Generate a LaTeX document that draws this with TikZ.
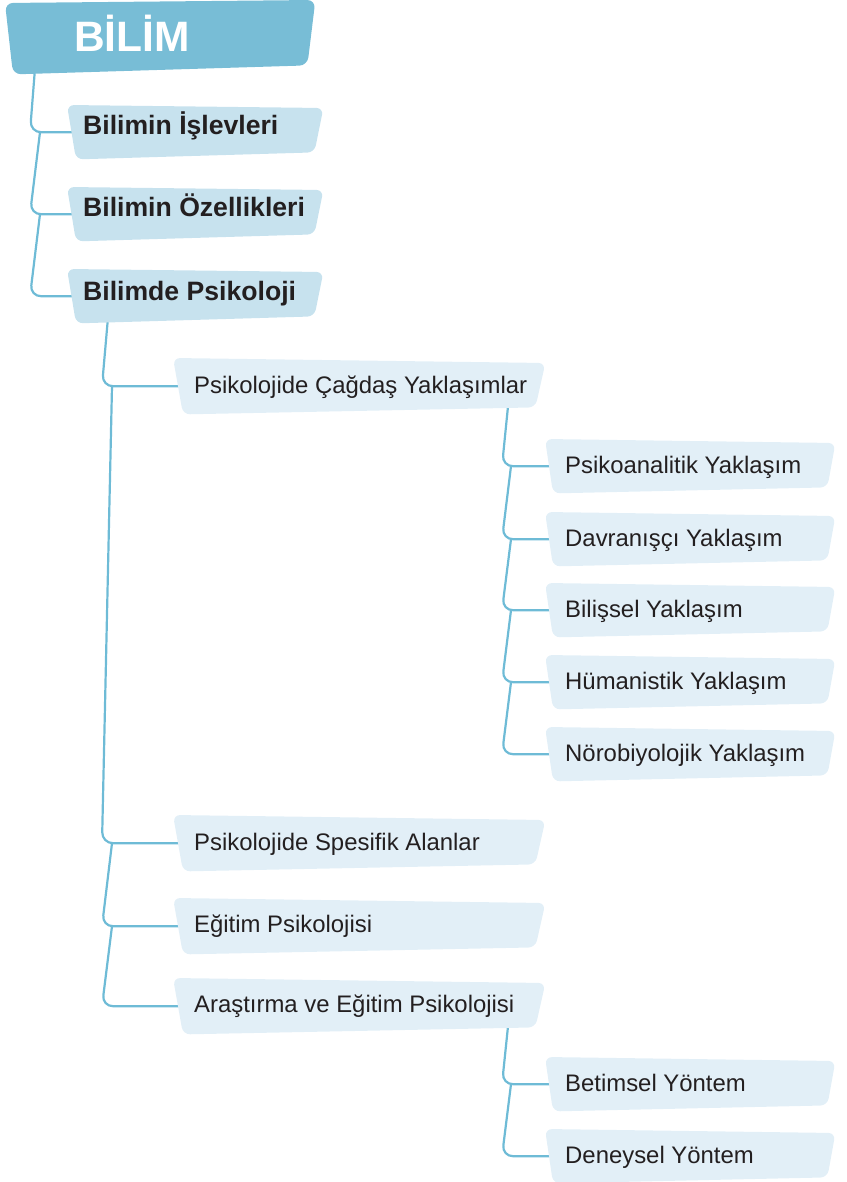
\documentclass[tikz,border=0pt]{standalone}
\usepackage{fontspec}
\setmainfont{Liberation Sans}
\usetikzlibrary{calc}
\definecolor{cTop}{HTML}{78BDD6}
\definecolor{cLa}{HTML}{C7E2EE}
\definecolor{cLb}{HTML}{E2EFF7}
\definecolor{cLine}{HTML}{6EBBD6}
\definecolor{cText}{HTML}{231F20}
\pgfdeclarelayer{lines}
\pgfdeclarelayer{bg}
\pgfsetlayers{lines,bg,main}
% #1 node, #2 colour, #3 top-right drop, #4 side inset, #5 bottom-right rise
\newcommand{\tzbox}[5]{%
  \fill[#2, rounded corners=7pt] (#1.north west) -- ($(#1.north east)+(0,#3)$)
    -- ($(#1.south east)+(-#4,-#5)$) -- ($(#1.south west)+(#4,0)$) -- cycle;}
\begin{document}
\begin{tikzpicture}[x=1pt,y=-1pt,
  boxA/.style={rectangle, inner sep=0pt, minimum width=256pt, minimum height=54pt, anchor=north west},
  boxB/.style={rectangle, inner sep=0pt, minimum width=372pt, minimum height=56pt, anchor=north west},
  boxC/.style={rectangle, inner sep=0pt, minimum width=290pt, minimum height=54pt, anchor=north west},
  txtTop/.style={anchor=base west, inner sep=0pt, text=white, font=\bfseries\fontsize{42.5}{48}\selectfont},
  txtA/.style={anchor=base west, inner sep=0pt, text=cText, font=\bfseries\fontsize{26.6}{30}\selectfont},
  txtB/.style={anchor=base west, inner sep=0pt, text=cText, font=\fontsize{23.9}{28}\selectfont},
  conn/.style={draw=cLine, line width=2.2pt, rounded corners=11pt, shorten >=-10pt}
]
\useasboundingbox (0,0) rectangle (846,1182);

% boxes
\node[rectangle, inner sep=0pt, minimum width=310pt, minimum height=74pt, anchor=north west] (b0) at (5,0) {};
\node[boxA] (b1) at (67,105) {};
\node[boxA] (b2) at (67,187) {};
\node[boxA] (b3) at (67,269) {};
\node[boxB] (b4) at (173,358) {};
\node[boxB] (b5) at (173,815) {};
\node[boxB] (b6) at (173,898) {};
\node[boxB] (b7) at (173,978) {};
\node[boxC] (b8) at (545,439) {};
\node[boxC] (b9) at (545,512) {};
\node[boxC] (b10) at (545,583) {};
\node[boxC] (b11) at (545,655) {};
\node[boxC] (b12) at (545,727) {};
\node[boxC] (b13) at (545,1057) {};
\node[boxC] (b14) at (545,1129) {};

\begin{pgfonlayer}{bg}
  \fill[cTop, rounded corners=8pt] ($(b0.north west)+(0,3)$) -- (b0.north east)
    -- ($(b0.south east)+(-8,-9)$) -- ($(b0.south west)+(8,0)$) -- cycle;
  \foreach \n in {b1,b2,b3} {\tzbox{\n}{cLa}{3}{9}{7}}
  \foreach \n in {b4,b5,b6,b7} {\tzbox{\n}{cLb}{5}{10}{7}}
  \foreach \n in {b8,b9,b10,b11,b12,b13,b14} {\tzbox{\n}{cLb}{4}{8}{6}}
\end{pgfonlayer}

% texts
\node[txtTop] (t0) at ($(b0.north west)+(69,52)$) {BİLİM};
\node[txtA] (t1) at ($(b1.north west)+(16,30)$) {Bilimin İşlevleri};
\node[txtA] (t2) at ($(b2.north west)+(16,30)$) {Bilimin Özellikleri};
\node[txtA] (t3) at ($(b3.north west)+(16,31)$) {Bilimde Psikoloji};
\node[txtB] (t4) at ($(b4.north west)+(21,35)$) {Psikolojide Çağdaş Yaklaşımlar};
\node[txtB] (t5) at ($(b5.north west)+(21,35)$) {Psikolojide Spesifik Alanlar};
\node[txtB] (t6) at ($(b6.north west)+(21,34)$) {Eğitim Psikolojisi};
\node[txtB] (t7) at ($(b7.north west)+(21,34)$) {Araştırma ve Eğitim Psikolojisi};
\node[txtB] (t8) at ($(b8.north west)+(20,34)$) {Psikoanalitik Yaklaşım};
\node[txtB] (t9) at ($(b9.north west)+(20,34)$) {Davranışçı Yaklaşım};
\node[txtB] (t10) at ($(b10.north west)+(20,34)$) {Bilişsel Yaklaşım};
\node[txtB] (t11) at ($(b11.north west)+(20,34)$) {Hümanistik Yaklaşım};
\node[txtB] (t12) at ($(b12.north west)+(20,34)$) {Nörobiyolojik Yaklaşım};
\node[txtB] (t13) at ($(b13.north west)+(20,34)$) {Betimsel Yöntem};
\node[txtB] (t14) at ($(b14.north west)+(20,34)$) {Deneysel Yöntem};

% connectors
\begin{pgfonlayer}{lines}
  \coordinate (e0) at ($(b0.south west)+(30,-6)$);
  \coordinate (e3) at ($(b3.south west)+(41,-6)$);
  \coordinate (e4) at ($(b4.south west)+(335,-8)$);
  \coordinate (e7) at ($(b7.south west)+(335,-8)$);
  \draw[conn] (e0) -- (30,0 |- b1.west) -- (b1.west);
  \draw[conn] (40,0 |- b1.west) -- (30,0 |- b2.west) -- (b2.west);
  \draw[conn] (40,0 |- b2.west) -- (30,0 |- b3.west) -- (b3.west);
  \draw[conn] (e3) -- (102,0 |- b4.west) -- (b4.west);
  \draw[conn] (112,0 |- b4.west) -- (102,0 |- b5.west) -- (b5.west);
  \draw[conn] (112,0 |- b5.west) -- (102,0 |- b6.west) -- (b6.west);
  \draw[conn] (112,0 |- b6.west) -- (102,0 |- b7.west) -- (b7.west);
  \draw[conn] (e4) -- (502,0 |- b8.west) -- (b8.west);
  \draw[conn] (511,0 |- b8.west) -- (502,0 |- b9.west) -- (b9.west);
  \draw[conn] (511,0 |- b9.west) -- (502,0 |- b10.west) -- (b10.west);
  \draw[conn] (511,0 |- b10.west) -- (502,0 |- b11.west) -- (b11.west);
  \draw[conn] (511,0 |- b11.west) -- (502,0 |- b12.west) -- (b12.west);
  \draw[conn] (e7) -- (502,0 |- b13.west) -- (b13.west);
  \draw[conn] (511,0 |- b13.west) -- (502,0 |- b14.west) -- (b14.west);
\end{pgfonlayer}
\end{tikzpicture}
\end{document}
